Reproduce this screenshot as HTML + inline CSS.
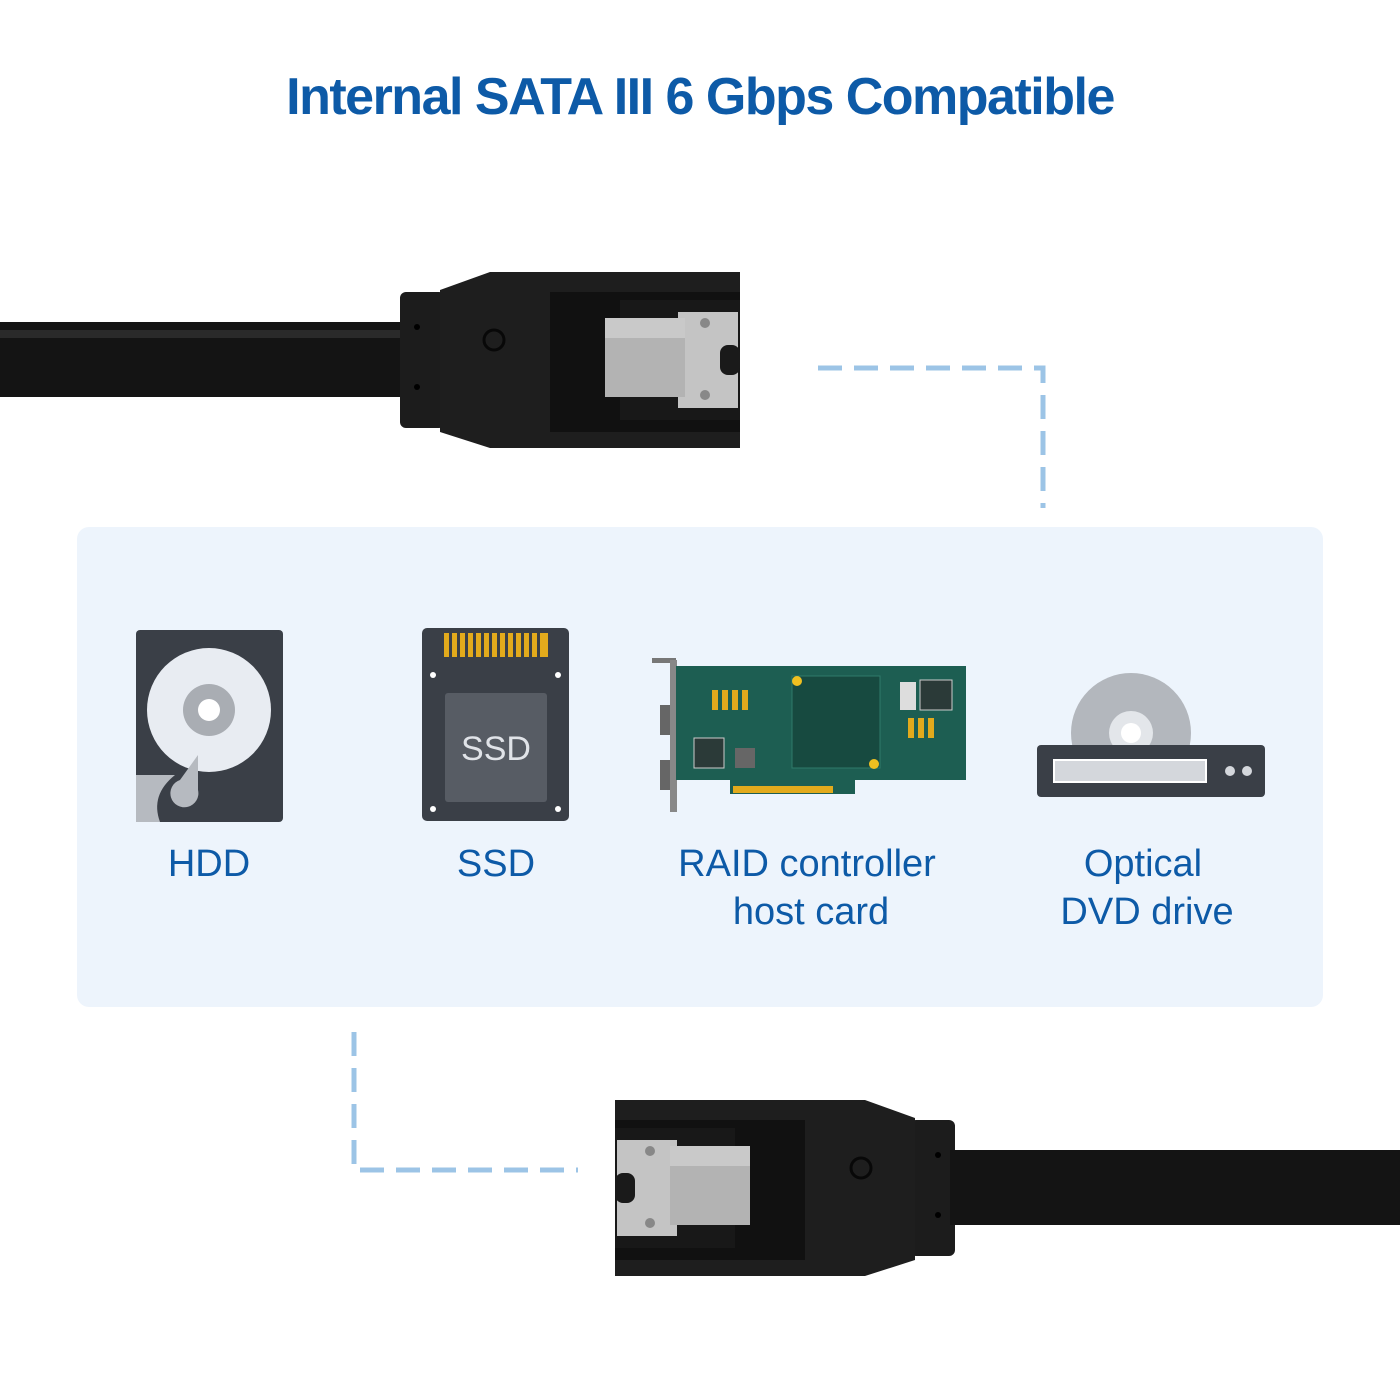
<!DOCTYPE html>
<html><head><meta charset="utf-8"><style>
html,body{margin:0;padding:0;background:#fff;}
body{width:1400px;height:1400px;position:relative;overflow:hidden;font-family:"Liberation Sans",sans-serif;}
</style></head><body>
<svg width="1400" height="1400" viewBox="0 0 1400 1400" xmlns="http://www.w3.org/2000/svg" style="position:absolute;left:0;top:0">
<text x="700" y="114" text-anchor="middle" font-family="Liberation Sans, sans-serif" font-weight="bold" font-size="52" fill="#0d5aa7" letter-spacing="-1.5">Internal SATA III 6 Gbps Compatible</text>

<!-- dashed connectors -->
<g stroke="#9cc4e6" stroke-width="5" fill="none" stroke-dasharray="24 12">
<path d="M818 368 H1043 V508"/>
<path d="M354 1032 V1170 H578"/>
</g>

<!-- panel -->
<rect x="77" y="527" width="1246" height="480" rx="12" fill="#edf4fc"/>

<!-- top cable -->
<defs>
<g id="conn">
<rect x="0" y="322" width="410" height="75" fill="#141414"/>
<rect x="0" y="330" width="410" height="8" fill="#2a2a2a"/>
<rect x="400" y="292" width="45" height="136" rx="6" fill="#1c1c1c"/>
<circle cx="417" cy="327" r="3" fill="#000"/><circle cx="417" cy="387" r="3" fill="#000"/>
<polygon points="440,290 490,272 740,272 740,448 490,448 440,432" fill="#1e1e1e"/>
<rect x="550" y="292" width="190" height="140" fill="#111"/>
<rect x="620" y="300" width="120" height="120" fill="#181818"/>
<circle cx="494" cy="340" r="10" fill="none" stroke="#080808" stroke-width="3"/>
<rect x="678" y="312" width="60" height="96" fill="#c4c4c4"/>
<rect x="720" y="345" width="20" height="30" rx="8" fill="#1a1a1a"/>
<circle cx="705" cy="323" r="5" fill="#888"/><circle cx="705" cy="395" r="5" fill="#888"/>
<rect x="605" y="318" width="80" height="79" fill="#b3b3b3"/>
<rect x="605" y="318" width="80" height="20" fill="#c9c9c9"/>
</g>
</defs>
<use href="#conn"/>
<g transform="translate(1355,828) scale(-1,1)"><use href="#conn"/></g>
<rect x="950" y="1150" width="450" height="75" fill="#141414"/>

<!-- HDD -->
<rect x="136" y="630" width="147" height="192" rx="4" fill="#3a3f47"/>
<circle cx="209" cy="710" r="62" fill="#e8ecf2"/>
<circle cx="209" cy="710" r="26" fill="#a9adb3"/>
<circle cx="209" cy="710" r="11" fill="#fff"/>
<path d="M136 775 L175 775 Q150 795 160 822 L136 822Z" fill="#b6bac0"/>
<path d="M198 755 L180 780 A14 14 0 1 0 198 790 Z" fill="#b6bac0"/>

<!-- SSD -->
<rect x="422" y="628" width="147" height="193" rx="5" fill="#3a3f47"/>
<g fill="#e2aa1c">
<rect x="444" y="633" width="104" height="24"/>
</g>
<g fill="#3a3f47"><rect x="449" y="633" width="3" height="24"/><rect x="457" y="633" width="3" height="24"/><rect x="465" y="633" width="3" height="24"/><rect x="473" y="633" width="3" height="24"/><rect x="481" y="633" width="3" height="24"/><rect x="489" y="633" width="3" height="24"/><rect x="497" y="633" width="3" height="24"/><rect x="505" y="633" width="3" height="24"/><rect x="513" y="633" width="3" height="24"/><rect x="521" y="633" width="3" height="24"/><rect x="529" y="633" width="3" height="24"/><rect x="537" y="633" width="3" height="24"/></g>
<rect x="445" y="693" width="102" height="109" rx="3" fill="#575c64"/>
<text x="496" y="760" text-anchor="middle" font-size="34" fill="#e0e3e8">SSD</text>
<g fill="#fff"><circle cx="433" cy="675" r="3"/><circle cx="558" cy="675" r="3"/><circle cx="433" cy="809" r="3"/><circle cx="558" cy="809" r="3"/></g>

<!-- RAID card -->
<rect x="652" y="658" width="24" height="5" fill="#777"/>
<rect x="670" y="660" width="7" height="152" fill="#888"/>
<rect x="660" y="705" width="10" height="30" fill="#666"/><rect x="660" y="760" width="10" height="30" fill="#666"/>
<rect x="676" y="666" width="290" height="114" fill="#1d5e52"/>
<rect x="730" y="780" width="125" height="14" fill="#1d5e52"/>
<rect x="733" y="786" width="100" height="7" fill="#e2aa1c"/>
<rect x="792" y="676" width="88" height="92" fill="#174a40" stroke="#2f7a6a"/>
<rect x="694" y="738" width="30" height="30" fill="#2b3a38" stroke="#ccc"/>
<rect x="920" y="680" width="32" height="30" fill="#2b3a38" stroke="#ccc"/>
<rect x="735" y="748" width="20" height="20" fill="#666"/>
<rect x="712" y="690" width="6" height="20" fill="#e2aa1c"/><rect x="722" y="690" width="6" height="20" fill="#e2aa1c"/><rect x="732" y="690" width="6" height="20" fill="#e2aa1c"/><rect x="742" y="690" width="6" height="20" fill="#e2aa1c"/>
<rect x="908" y="718" width="6" height="20" fill="#e2aa1c"/><rect x="918" y="718" width="6" height="20" fill="#e2aa1c"/><rect x="928" y="718" width="6" height="20" fill="#e2aa1c"/>
<rect x="900" y="682" width="16" height="28" fill="#ddd"/>
<circle cx="797" cy="681" r="5" fill="#f0c020"/><circle cx="874" cy="764" r="5" fill="#f0c020"/>

<!-- DVD -->
<circle cx="1131" cy="733" r="60" fill="#b3b7bd"/>
<circle cx="1131" cy="733" r="22" fill="#e3e6ea"/>
<circle cx="1131" cy="733" r="10" fill="#fff"/>
<rect x="1037" y="745" width="228" height="52" rx="4" fill="#3a3f47"/>
<rect x="1054" y="760" width="152" height="22" fill="#d4d7dc" stroke="#fff" stroke-width="2"/>
<circle cx="1230" cy="771" r="5" fill="#d4d7dc"/><circle cx="1247" cy="771" r="5" fill="#d4d7dc"/>

<g font-size="38" fill="#0d5aa7" text-anchor="middle">
<text x="209" y="876">HDD</text>
<text x="496" y="876">SSD</text>
<text x="807" y="876">RAID controller</text>
<text x="811" y="924">host card</text>
<text x="1143" y="876">Optical</text>
<text x="1147" y="924">DVD drive</text>
</g>
</svg>
</body></html>
